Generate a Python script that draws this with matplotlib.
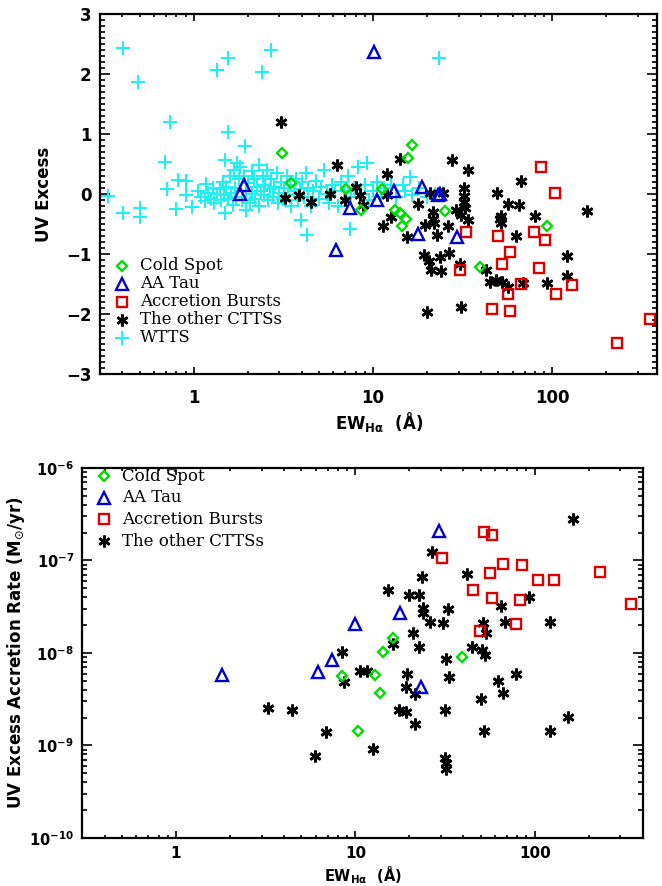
import numpy as np
import matplotlib
matplotlib.use('Agg')
import matplotlib.pyplot as plt
from matplotlib.ticker import MultipleLocator, LogLocator, NullFormatter

# ---- top panel: UV excess vs EW(Halpha) ----
cold_ew = [3.11, 3.5, 16.4, 15.6, 7.05, 11.2, 8.58, 13.3, 14.1, 15.3, 14.4, 25.1, 93.0, 39.5, 57.7]
cold_uv = [0.68, 0.19, 0.82, 0.60, 0.08, 0.08, -0.26, -0.26, -0.32, -0.41, -0.54, -0.28, -0.54, -1.22, 3.08]

aatau_ew = [10.1, 1.9, 1.8, 7.45, 10.5, 13.1, 18.8, 17.9, 6.23, 23.0, 23.5, 29.5]
aatau_uv = [2.37, 0.15, 0.0, -0.24, -0.10, 0.05, 0.12, -0.66, -0.94, -0.02, 0.0, -0.72]

burst_ew = [86, 103, 32.9, 49.9, 79.1, 90.6, 58.2, 52.6, 30.4, 83.6, 67, 56.5, 105, 128.5, 45.8, 57.7, 349, 230]
burst_uv = [0.45, 0.01, -0.63, -0.70, -0.64, -0.76, -0.96, -1.16, -1.26, -1.24, -1.50, -1.66, -1.66, -1.51, -1.91, -1.95, -2.08, -2.48]

ctts_ew = [3.08, 3.24, 3.88, 4.5, 5.77, 6.29, 6.93, 8.05, 8.47, 8.83, 11.9, 12.0, 14.1, 11.4, 12.5,
           15.4, 17.8, 19.4, 20.8, 24.4, 21.7, 21.6, 21.8, 22.8, 26.2, 27.7, 28.9, 31.0, 32.1, 32.1,
           32.1, 32.5, 33.9, 33.9, 48.8, 50.9, 51.4, 51.4, 56.5, 62.9, 65.3, 67, 80, 155, 19.3,
           20.4, 21.1, 23.7, 23.9, 26.6, 30.4, 42.7, 44.7, 48.6, 52.6, 56.5, 68.5, 93, 121, 121,
           31, 20]
ctts_uv = [1.20, -0.07, -0.02, -0.14, 0.0, 0.49, -0.10, 0.12, -0.02, -0.18, -0.02, 0.33, 0.58, -0.53, -0.38,
           -0.72, -0.17, -0.52, 0.02, 0.02, -0.30, -0.41, -0.49, -0.68, -0.53, 0.56, -0.26, -0.35, 0.10, -0.03,
           -0.14, -0.24, 0.40, -0.43, 0.02, -0.41, -0.49, -0.37, -0.16, -0.70, -0.19, 0.22, -0.37, -0.28, -1.02,
           -1.12, -1.27, -1.05, -1.29, -0.99, -1.16, -1.27, -1.46, -1.43, -1.46, -1.55, -1.49, -1.49, -1.04, -1.37,
           -1.88, -1.97]

wtts_ew = [0.405, 0.487, 1.34, 1.55, 2.41, 2.7, 23.2, 0.736, 1.56, 1.92, 0.69, 0.334, 0.405, 0.5, 0.5,
           0.705, 0.818, 0.9, 0.8, 0.9, 0.98, 1.17, 1.5, 1.75, 1.5, 1.95, 9.3, 16.1, 14.6, 3.98,
           4.28, 7.4,
           1.05, 1.1, 1.15, 1.2, 1.25, 1.28, 1.3, 1.35, 1.4, 1.42, 1.45, 1.48, 1.52, 1.55, 1.6, 1.62,
           1.65, 1.68, 1.7, 1.72, 1.78, 1.82, 1.85, 1.9, 1.95, 2.0, 2.05, 2.1, 2.12, 2.18, 2.2, 2.25,
           2.3, 2.32, 2.38, 2.42, 2.45, 2.5,
           2.55, 2.6, 2.65, 2.7, 2.75, 2.8, 2.9, 2.95, 3.0, 3.05, 3.15, 3.2, 3.3, 3.35, 3.45, 3.5,
           3.6, 3.7, 3.8, 3.9,
           4.0, 4.1, 4.2, 4.35, 4.5, 4.6, 4.8, 5.0, 5.1, 5.3, 5.5, 5.7, 5.9, 6.1, 6.4, 6.6,
           6.9, 7.2, 7.5, 7.8,
           8.2, 8.6, 9.0, 9.5, 10, 10.5, 11, 11.5, 12.5, 13.5, 15, 16.5, 18, 20, 22]
wtts_uv = [2.43, 1.86, 2.06, 2.26, 2.04, 2.40, 2.27, 1.20, 1.04, 0.80, 0.54, -0.03, -0.32, -0.24, -0.39,
           0.09, 0.24, 0.22, -0.25, -0.02, -0.22, 0.17, 0.56, 0.51, -0.32, -0.27, 0.51, 0.29, 0.15, -0.43,
           -0.68, -0.59,
           0.05, -0.05, -0.12, 0.02, -0.08, 0.10, -0.15, 0.0, 0.08, -0.10, 0.20, -0.02, 0.12, -0.08, 0.30, 0.02,
           -0.18, 0.40, 0.10, -0.05, 0.25, 0.45, -0.10, 0.30, 0.05, 0.18, -0.15, 0.38, 0.0, 0.25, -0.08, 0.12,
           0.48, -0.20, 0.05, 0.30, -0.02, 0.15,
           0.40, -0.10, 0.08, 0.25, -0.05, 0.12, 0.35, -0.15, 0.02, 0.20, -0.08, 0.10, 0.30, -0.02, 0.15, -0.20,
           0.05, 0.25, -0.10, 0.08,
           0.20, -0.05, 0.35, 0.10, -0.20, 0.05, 0.22, -0.08, 0.12, 0.40, 0.0, -0.15, 0.15, 0.05, -0.20, 0.20,
           0.05, 0.30, -0.05, 0.10,
           0.45, 0.0, 0.15, -0.10, 0.05, 0.20, -0.05, 0.10, 0.15, -0.05, 0.05, -0.02, 0.10, -0.05, 0.0]

# ---- bottom panel: accretion rate vs EW(Halpha) ----
burst_ew2 = [52.1, 57.5, 30.3, 56.4, 66.7, 85.4, 104.3, 127.5, 231.7, 45.4, 57.5, 83.3, 344, 78.4, 49.5]
burst_rate = [2.05e-7, 1.89e-7, 1.06e-7, 7.4e-8, 9.2e-8, 8.9e-8, 6.2e-8, 6.2e-8, 7.6e-8, 4.8e-8,
              3.9e-8, 3.7e-8, 3.4e-8, 2.06e-8, 1.74e-8]

cold_ew2 = [16.2, 14.2, 39.5, 8.43, 12.9, 13.8, 10.3]
cold_rate = [1.47e-8, 1.03e-8, 9.1e-9, 5.6e-9, 5.8e-9, 3.7e-9, 1.44e-9]

aatau_ew2 = [29.4, 17.8, 10.0, 7.42, 1.8, 6.18, 23.2]
aatau_rate = [2.1e-7, 2.73e-8, 2.04e-8, 8.4e-9, 5.8e-9, 6.3e-9, 4.3e-9]

ctts_ew2 = [163, 26.7, 42.1, 23.5, 15.3, 19.8, 22.5, 23.7, 23.7, 33, 93, 64.5, 26, 30.9, 68.6,
            121, 51.2, 53.8, 20.9, 16.3, 22.5, 44.5, 50.6, 52.8, 32, 8.43, 8.6, 10.6, 11.6, 19.4,
            19.2, 21.5, 17.4, 19.2, 21.5, 33.4, 31.6, 31.6, 32, 32, 12.6, 49.9, 52.1, 62.5, 66.3,
            79, 121, 153, 3.26, 4.45, 5.92, 6.87]
ctts_rate = [2.81e-7, 1.25e-7, 7.15e-8, 6.6e-8, 4.8e-8, 4.2e-8, 4.2e-8, 3.04e-8, 2.68e-8, 2.96e-8,
             4.06e-8, 3.25e-8, 2.18e-8, 2.13e-8, 2.18e-8, 2.18e-8, 2.1e-8, 1.66e-8, 1.66e-8, 1.25e-8,
             1.15e-8, 1.17e-8, 1.08e-8, 9.5e-9, 8.6e-9, 1.03e-8, 4.8e-9, 6.45e-9, 6.45e-9, 6.0e-9,
             4.3e-9, 3.6e-9, 2.42e-9, 2.32e-9, 1.71e-9, 5.55e-9, 2.42e-9, 7.4e-10, 6.4e-10, 5.5e-10,
             9.1e-10, 3.16e-9, 1.44e-9, 5.0e-9, 3.7e-9, 5.9e-9, 1.44e-9, 2.02e-9, 2.52e-9, 2.42e-9,
             7.7e-10, 1.41e-9]

GREEN = '#00dd00'
BLUE = '#0000cc'
RED = '#dd0000'
CYAN = '#22f0f0'
STAR = (6, 2, 0)

sty = {
    'cold': dict(marker='D', ms=5.5, mfc='none', mec=GREEN, mew=1.7, ls='none'),
    'aa': dict(marker='^', ms=8, mfc='none', mec=BLUE, mew=1.7, ls='none'),
    'burst': dict(marker='s', ms=7.5, mfc='none', mec=RED, mew=1.7, ls='none'),
    'ctts': dict(marker=STAR, ms=8.5, mfc='k', mec='k', mew=1.9, ls='none'),
    'wtts': dict(marker='+', ms=9.5, mec=CYAN, mew=1.5, ls='none'),
}

fig = plt.figure(figsize=(6.62, 8.86), dpi=100)
ax1 = fig.add_axes([0.151, 0.5779, 0.8422, 0.4063])
ax2 = fig.add_axes([0.1243, 0.0542, 0.8465, 0.4176])

ax1.plot(wtts_ew, wtts_uv, **sty['wtts'])
ax1.plot(ctts_ew, ctts_uv, **sty['ctts'])
ax1.plot(burst_ew, burst_uv, **sty['burst'])
ax1.plot(aatau_ew, aatau_uv, **sty['aa'])
ax1.plot(cold_ew, cold_uv, **sty['cold'])
ax1.set_xscale('log')
ax1.set_xlim(0.3, 385)
ax1.set_ylim(-3, 3)
ax1.yaxis.set_major_locator(MultipleLocator(1))
ax1.yaxis.set_minor_locator(MultipleLocator(0.1))
ax1.set_xticks([1, 10, 100])
ax1.set_xticklabels(['1', '10', '100'])
ax1.xaxis.set_minor_formatter(NullFormatter())

ax2.plot(ctts_ew2, ctts_rate, **sty['ctts'])
ax2.plot(burst_ew2, burst_rate, **sty['burst'])
ax2.plot(aatau_ew2, aatau_rate, **sty['aa'])
ax2.plot(cold_ew2, cold_rate, **sty['cold'])
ax2.set_xscale('log')
ax2.set_yscale('log')
ax2.set_xlim(0.3, 400)
ax2.set_ylim(1e-10, 1e-6)
ax2.set_xticks([1, 10, 100])
ax2.set_xticklabels(['1', '10', '100'])
ax2.xaxis.set_minor_formatter(NullFormatter())
ax2.yaxis.set_major_locator(LogLocator(base=10, numticks=10))
ax2.yaxis.set_minor_locator(LogLocator(base=10, subs=np.arange(2, 10), numticks=10))
ax2.yaxis.set_minor_formatter(NullFormatter())

for ax, xpad, xlab, ylab in ((ax1, 11, 12, 12), (ax2, 6, 11, 10.5)):
    for s in ax.spines.values():
        s.set_linewidth(1.6)
    ax.tick_params(which='both', direction='in', top=True, right=True, width=1.2)
    ax.tick_params(axis='x', which='major', length=5, labelsize=xlab, pad=xpad)
    ax.tick_params(axis='x', which='minor', length=2.5)
    ax.tick_params(axis='y', which='major', length=7.5, labelsize=ylab, pad=6)
    ax.tick_params(axis='y', which='minor', length=3.8)
    for lab in ax.get_xticklabels() + ax.get_yticklabels():
        lab.set_fontweight('bold')

ax1.set_ylabel('UV Excess', fontsize=12, fontweight='bold')
ax1.yaxis.set_label_coords(-0.085, 0.5)
ax1.set_xlabel(r'EW$_{\mathbf{H\alpha}}$  (Å)', fontsize=12, fontweight='bold')
ax1.xaxis.set_label_coords(0.5, -0.1)
ax2.set_ylabel(r'UV Excess Accretion Rate (M$_{\odot}$/yr)', fontsize=12, fontweight='bold')
ax2.yaxis.set_label_coords(-0.098, 0.5)
ax2.set_xlabel(r'EW$_{\mathbf{H\alpha}}$  (Å)', fontsize=10.5, fontweight='bold')
ax2.xaxis.set_label_coords(0.5, -0.071)

# hand-placed legends, IDL style
def legend(ax, entries, x0, y0, dy):
    for i, (key, label) in enumerate(entries):
        y = y0 - i * dy
        kw = dict(sty[key])
        ax.plot([x0], [y], transform=ax.transAxes, clip_on=False, **kw)
        ax.text(x0 + 0.032, y, label, transform=ax.transAxes, va='center', ha='left',
                fontsize=12, family='DejaVu Serif')

legend(ax1, [('cold', 'Cold Spot'), ('aa', 'AA Tau'), ('burst', 'Accretion Bursts'),
             ('ctts', 'The other CTTSs'), ('wtts', 'WTTS')], 0.04, 0.30, 0.05)
legend(ax2, [('cold', 'Cold Spot'), ('aa', 'AA Tau'), ('burst', 'Accretion Bursts'),
             ('ctts', 'The other CTTSs')], 0.039, 0.978, 0.0585)

fig.savefig('out.png', dpi=100)
